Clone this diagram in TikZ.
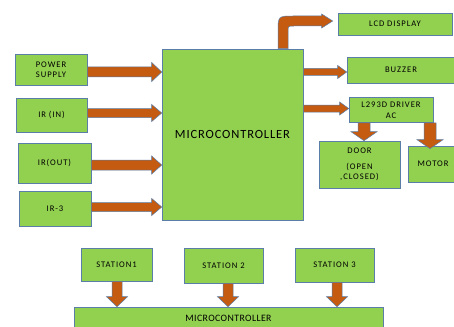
\documentclass[tikz,border=0pt]{standalone}
\usepackage{fontspec}
\setmainfont{Carlito}
\newfontfamily\labfont[LetterSpace=11]{Carlito}
\newfontfamily\bigfont[LetterSpace=7]{Carlito}
\newfontfamily\midfont[LetterSpace=4]{Carlito}
\usetikzlibrary{calc}
\definecolor{gfill}{HTML}{92D050}
\definecolor{gline}{HTML}{5A7EA8}
\definecolor{afill}{HTML}{C55A11}
\tikzset{
  box/.style={draw=gline,line width=0.6pt,fill=gfill,inner sep=0pt,align=center,
    font=\labfont\fontsize{8.6}{10.5}\selectfont,text=black},
  barrow/.style={draw=gline,line width=0.5pt,fill=afill},
}
% horizontal block arrow: from (#1) to x of (#2), at y of (#1)
\newcommand\harr[5]{\draw[barrow] let \p1=(#1), \p2=(#2) in
  (\x1,\y1+#3) -- (\x2-#5,\y1+#3) -- (\x2-#5,\y1+#4) -- (\x2,\y1)
  -- (\x2-#5,\y1-#4) -- (\x2-#5,\y1-#3) -- (\x1,\y1-#3) -- cycle;}
% vertical block arrow downwards: from (#1) to y of (#2), at x of (#1)
\newcommand\varr[5]{\draw[barrow] let \p1=(#1), \p2=(#2) in
  (\x1-#3,\y1) -- (\x1-#3,\y2+#5) -- (\x1-#4,\y2+#5) -- (\x1,\y2)
  -- (\x1+#4,\y2+#5) -- (\x1+#3,\y2+#5) -- (\x1+#3,\y1) -- cycle;}
\begin{document}
\begin{tikzpicture}[x=1pt,y=-1pt]
\useasboundingbox[fill=white] (0,0) rectangle (454,326);
% left inputs
\node[box,minimum width=72pt,minimum height=31pt] (ps) at (51,69.5) {POWER\\SUPPLY};
\node[box,minimum width=71pt,minimum height=34pt] (irin) at (51.5,115) {IR (IN)};
\node[box,minimum width=73pt,minimum height=40pt] (irout) at (54.5,163) {IR(OUT)};
\node[box,minimum width=72pt,minimum height=35pt] (ir3) at (55,208.5) {IR-3};
% main controller
\node[box,minimum width=141pt,minimum height=171pt,font=\bigfont\fontsize{12.5}{14}\selectfont] (mc) at (232.5,134.5) {MICROCONTROLLER};
% outputs
\node[box,minimum width=114pt,minimum height=22pt] (lcd) at (395,24) {LCD DISPLAY};
\node[box,minimum width=108pt,minimum height=26pt] (buz) at (401,70) {BUZZER};
\node[box,minimum width=84pt,minimum height=25pt] (drv) at (391,110) {L293D DRIVER\\AC};
\node[box,minimum width=81pt,minimum height=47pt] (door) at (359.5,164.5) {DOOR\\[5pt](OPEN\\,CLOSED)};
\node[box,minimum width=50pt,minimum height=36pt] (motor) at (433,164) {MOTOR};
% stations
\node[box,minimum width=71pt,minimum height=33pt] (st1) at (116.5,264.5) {STATION1};
\node[box,minimum width=79pt,minimum height=35pt] (st2) at (223.5,265.5) {STATION 2};
\node[box,minimum width=79pt,minimum height=34pt] (st3) at (334.5,265) {STATION 3};
\node[box,minimum width=309pt,minimum height=22pt,font=\midfont\fontsize{9.8}{11}\selectfont] (mc2) at (228.5,318) {MICROCONTROLLER};
% input arrows
\harr{[yshift=-2.5pt]ps.east}{mc.west}{5pt}{9.5pt}{10pt}
\harr{[yshift=2pt]irin.east}{mc.west}{4.5pt}{8.5pt}{10pt}
\harr{[yshift=-2pt]irout.east}{mc.west}{5pt}{9pt}{10pt}
\harr{[yshift=1.5pt]ir3.east}{mc.west}{4.5pt}{8.5pt}{10pt}
% output arrows
\harr{[yshift=-2pt]mc.east |- buz.west}{buz.west}{3.5pt}{6.5pt}{9pt}
\harr{[yshift=1.5pt]mc.east |- drv.west}{drv.west}{3.5pt}{6.5pt}{9pt}
% bent arrow to LCD
\coordinate (b0) at ([xshift=50.5pt]mc.north);
\coordinate (b1) at ([xshift=-5pt,yshift=3pt]lcd.west);
\draw[barrow] let \p1=(b0), \p2=(b1) in
  (\x1-5pt,\y1) -- (\x1-5pt,\y2-11pt) .. controls (\x1-5pt,\y2+5pt) .. (\x1+11pt,\y2+5pt)
  -- (\x2-11pt,\y2+5pt) -- (\x2-11pt,\y2+7pt) -- (\x2,\y2) -- (\x2-11pt,\y2-7pt)
  -- (\x2-11pt,\y2-5pt) -- (\x1+11pt,\y2-5pt) .. controls (\x1+5pt,\y2-5pt) .. (\x1+5pt,\y2-11pt)
  -- (\x1+5pt,\y1) -- cycle;
% driver to door / motor
\varr{[xshift=-27pt]drv.south}{[xshift=-27pt]door.north}{6pt}{13pt}{9pt}
\varr{[xshift=39pt]drv.south}{[yshift=-3pt]motor.north}{6pt}{13pt}{9pt}
% stations to controller
\varr{[xshift=0.5pt]st1.south}{mc2.north}{5pt}{10.5pt}{10pt}
\varr{[xshift=4.5pt]st2.south}{mc2.north}{5pt}{10.5pt}{10pt}
\varr{[xshift=2.5pt]st3.south}{mc2.north}{5pt}{10.5pt}{10pt}
\end{tikzpicture}
\end{document}
